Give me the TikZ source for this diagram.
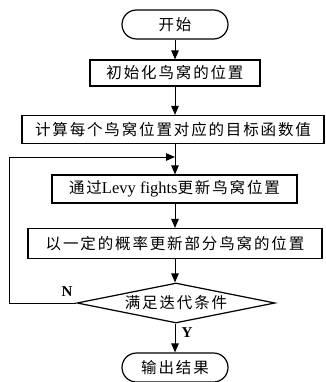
\documentclass[tikz,border=0pt]{standalone}
\usepackage{fontspec}
\setmainfont{Liberation Serif}
\newfontfamily\cjk[LetterSpace=12]{Noto Sans CJK SC}
\usetikzlibrary{arrows.meta,shapes.geometric}
\tikzset{
  box/.style={draw, line width=1.2pt, inner sep=0pt, font=\fontsize{15.5}{17}\selectfont},
  term/.style={box, rounded corners=14.5pt, minimum width=106pt, minimum height=29pt},
  decision/.style={draw, line width=1.2pt, diamond, aspect=4.95, inner sep=0pt,
    minimum width=198pt, minimum height=40pt, font=\fontsize{15.5}{17}\selectfont},
  arr/.style={line width=1pt, -{Triangle[length=9pt,width=7.5pt]}},
  lbl/.style={font=\fontsize{15}{16}\selectfont\bfseries, inner sep=0pt}
}
\begin{document}
\begin{tikzpicture}[x=1pt, y=-1pt]
\useasboundingbox (0,0) rectangle (325,382);

\node[term] (start) at (175,24.5) {\cjk 开始};
\node[box, minimum width=170pt, minimum height=26pt] (init) at (175,73) {\cjk 初始化鸟窝的位置};
\node[box, minimum width=302pt, minimum height=28pt] (calc) at (173,129.5) {\cjk 计算每个鸟窝位置对应的目标函数值};
\node[box, minimum width=245pt, minimum height=28pt] (levy) at (174.5,189)
  {{\cjk 通过}{\fontsize{16.5}{18}\selectfont Levy fights}{\cjk 更新鸟窝位置}};
\node[box, minimum width=294pt, minimum height=30pt] (update) at (175,243.5) {\cjk 以一定的概率更新部分鸟窝的位置};
\node[decision] (cond) at (176,303) {\cjk 满足迭代条件};
\node[term] (stop) at (175,367.5) {\cjk 输出结果};

\coordinate (join) at (175,157);
\coordinate (corner) at (9,303);

\draw[arr] (start) -- (init);
\draw[arr] (init.south) -- (init.south |- calc.north);
\draw[arr] (join |- calc.south) -- (join |- levy.north);
\draw[arr] (join |- levy.south) -- (join |- update.north);
\draw[arr] (join |- update.south) -- (join |- cond.north);
\draw[arr] (join |- cond.south) -- (join |- stop.north);
\draw[arr] (cond.west) -- (corner) |- (join);

\node[lbl] (nlab) at (67,292) {N};
\node[lbl] (ylab) at (187,333) {Y};
\end{tikzpicture}
\end{document}
